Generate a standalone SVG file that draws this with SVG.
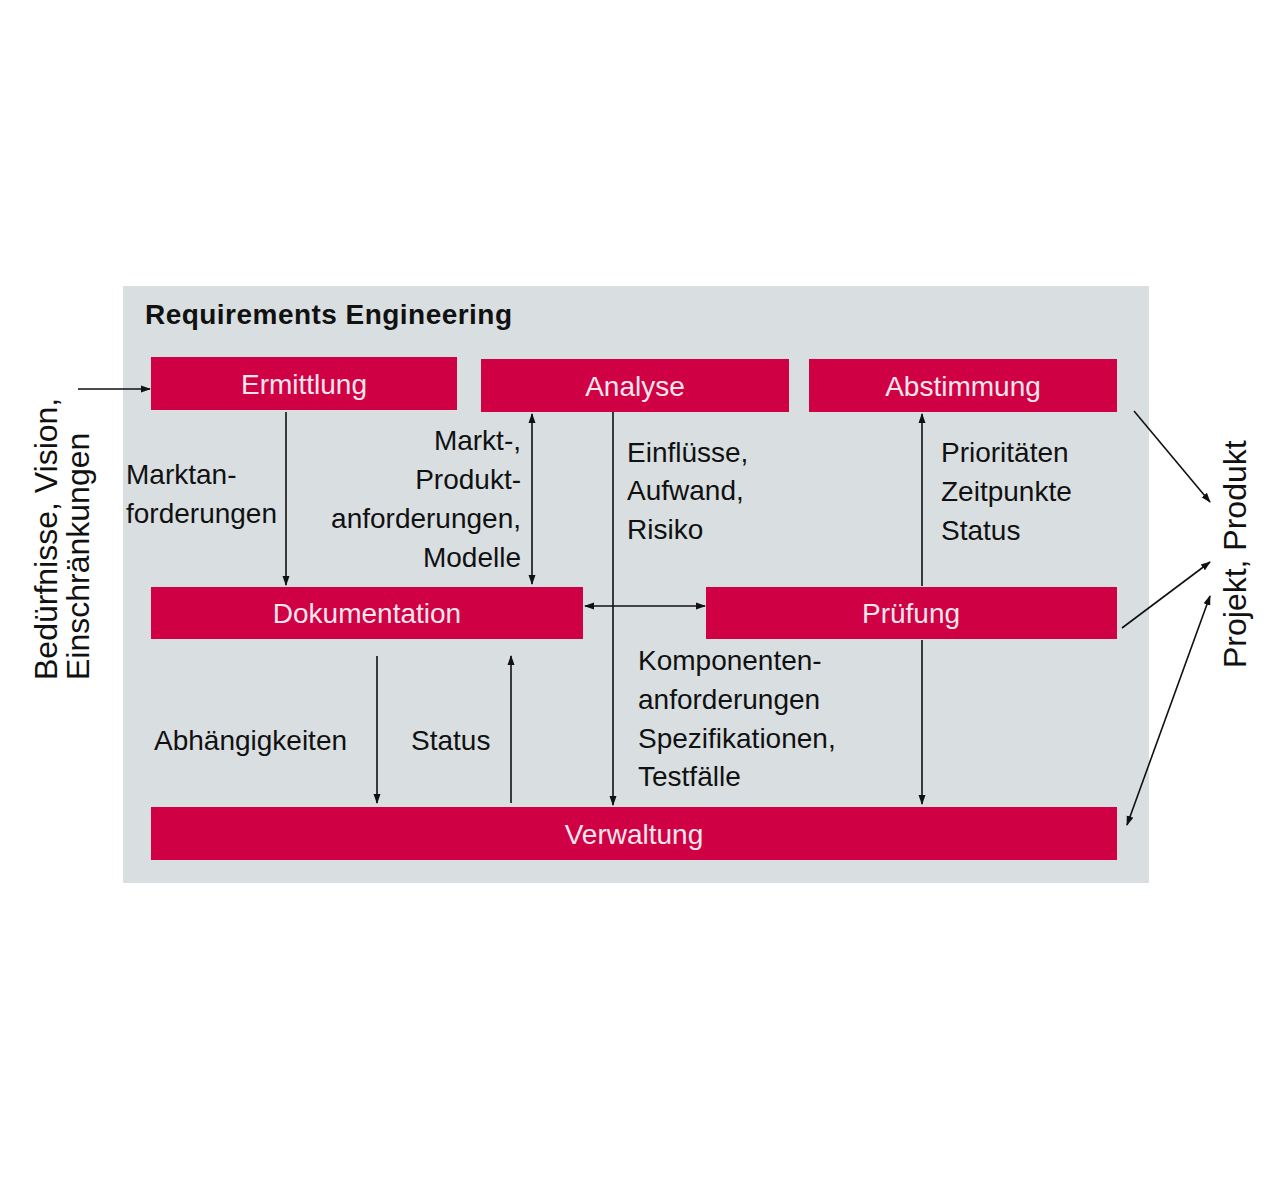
<svg xmlns="http://www.w3.org/2000/svg" width="1280" height="1190" viewBox="0 0 1280 1190">
<style>
.box{fill:#cf0044}
.bt{font-family:"Liberation Sans",Arial,sans-serif;font-size:28px;fill:#fbe6ec;text-anchor:middle}
.lb{font-family:"Liberation Sans",Arial,sans-serif;font-size:28px;fill:#111}
.rt{font-size:32px}
.ln{stroke:#111;stroke-width:1.6;fill:none}
</style>
<defs>
<marker id="ah" viewBox="0 0 10 10" refX="9" refY="5" markerWidth="10" markerHeight="10" orient="auto-start-reverse" markerUnits="userSpaceOnUse">
<path d="M0,1.5 L10,5 L0,8.5 z" fill="#111"/>
</marker>
</defs>
<rect x="0" y="0" width="1280" height="1190" fill="#ffffff"/>
<rect id="frame" x="123" y="286" width="1026" height="597" fill="#d9dfe1"/>
<text class="lb" x="145" y="324" font-weight="bold" textLength="367">Requirements Engineering</text>

<g id="connectors">
<line class="ln" x1="78" y1="389" x2="150" y2="389" marker-end="url(#ah)"/>
<line class="ln" x1="286" y1="412" x2="286" y2="585" marker-end="url(#ah)"/>
<line class="ln" x1="532" y1="414" x2="532" y2="584" marker-start="url(#ah)" marker-end="url(#ah)"/>
<line class="ln" x1="613" y1="412" x2="613" y2="805" marker-end="url(#ah)"/>
<line class="ln" x1="585" y1="606" x2="705" y2="606" marker-start="url(#ah)" marker-end="url(#ah)"/>
<line class="ln" x1="922" y1="586" x2="922" y2="414" marker-end="url(#ah)"/>
<line class="ln" x1="922" y1="640" x2="922" y2="804" marker-end="url(#ah)"/>
<line class="ln" x1="377" y1="656" x2="377" y2="803" marker-end="url(#ah)"/>
<line class="ln" x1="511" y1="803" x2="511" y2="656" marker-end="url(#ah)"/>
<line class="ln" x1="1134" y1="411" x2="1210" y2="502" marker-end="url(#ah)"/>
<line class="ln" x1="1122" y1="628" x2="1210" y2="562" marker-end="url(#ah)"/>
<line class="ln" x1="1127" y1="825" x2="1210" y2="596" marker-start="url(#ah)" marker-end="url(#ah)"/>
</g>

<g id="ermittlung"><rect class="box" x="151" y="357" width="306" height="53"/><text class="bt" x="304" y="394">Ermittlung</text></g>
<g id="analyse"><rect class="box" x="481" y="359" width="308" height="53"/><text class="bt" x="635" y="396">Analyse</text></g>
<g id="abstimmung"><rect class="box" x="809" y="359" width="308" height="53"/><text class="bt" x="963" y="396">Abstimmung</text></g>
<g id="dokumentation"><rect class="box" x="151" y="587" width="432" height="52"/><text class="bt" x="367" y="623">Dokumentation</text></g>
<g id="pruefung"><rect class="box" x="706" y="587" width="411" height="52"/><text class="bt" x="911" y="623">Prüfung</text></g>
<g id="verwaltung"><rect class="box" x="151" y="807" width="966" height="53"/><text class="bt" x="634" y="844">Verwaltung</text></g>

<g id="labels">
<text class="lb" x="126" y="484">Marktan-</text>
<text class="lb" x="126" y="523">forderungen</text>
<text class="lb" text-anchor="end" x="521" y="450">Markt-,</text>
<text class="lb" text-anchor="end" x="521" y="489">Produkt-</text>
<text class="lb" text-anchor="end" x="521" y="528">anforderungen,</text>
<text class="lb" text-anchor="end" x="521" y="567">Modelle</text>
<text class="lb" x="627" y="462">Einflüsse,</text>
<text class="lb" x="627" y="500">Aufwand,</text>
<text class="lb" x="627" y="539">Risiko</text>
<text class="lb" x="941" y="462">Prioritäten</text>
<text class="lb" x="941" y="501">Zeitpunkte</text>
<text class="lb" x="941" y="540">Status</text>
<text class="lb" x="638" y="670">Komponenten-</text>
<text class="lb" x="638" y="709">anforderungen</text>
<text class="lb" x="638" y="748">Spezifikationen,</text>
<text class="lb" x="638" y="786">Testfälle</text>
<text class="lb" x="154" y="750">Abhängigkeiten</text>
<text class="lb" x="411" y="750">Status</text>
<text class="lb rt" transform="translate(57,680) rotate(-90)">Bedürfnisse, Vision,</text>
<text class="lb rt" transform="translate(89,680) rotate(-90)">Einschränkungen</text>
<text class="lb rt" transform="translate(1246,668) rotate(-90)">Projekt, Produkt</text>
</g>
</svg>
